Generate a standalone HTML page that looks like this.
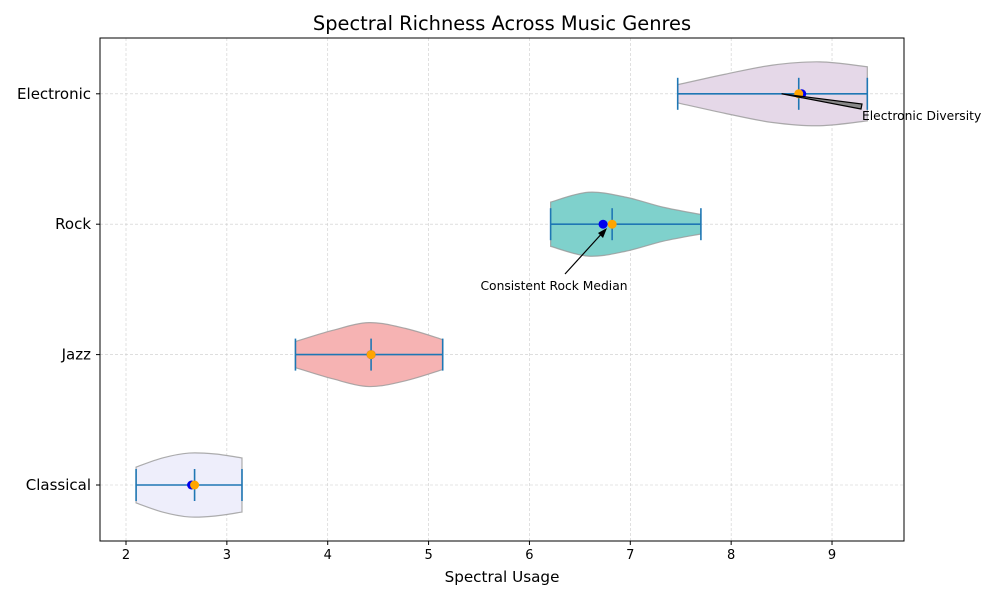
<!DOCTYPE html>
<html><head><meta charset="utf-8"><style>
body{margin:0;background:#fff;font-family:"Liberation Sans","DejaVu Sans",sans-serif}
</style></head><body>
<svg id="c" width="1000" height="600" xmlns="http://www.w3.org/2000/svg" font-family="DejaVu Sans, Liberation Sans, sans-serif"></svg>
<script>
const genres=["Classical","Jazz","Rock","Electronic"];
const mins=[2.1,3.68,6.21,7.47];
const maxs=[3.15,5.14,7.7,9.35];
const centers=[2.68,4.43,6.82,8.67];
const medians=[2.65,4.43,6.73,8.70];
const profiles=[[0.55,0.83,0.98,0.95,0.83],[0.4,0.74,0.98,0.8,0.46],[0.68,0.98,0.83,0.52,0.3],[0.28,0.6,0.88,0.98,0.83]];
const fills=["#eeeefb","#f6b3b3","#7fd1cc","#e5d8e8"];
const xticks=[2,3,4,5,6,7,8,9];
const NS="http://www.w3.org/2000/svg",svg=document.getElementById('c');
const L=100,R=904,T=38,B=541;
const X=v=>126+(v-2)*100.86, Y=i=>485-i*130.4, HW=32.6;
function el(t,a,p){const e=document.createElementNS(NS,t);for(const k in a)e.setAttribute(k,a[k]);(p||svg).appendChild(e);return e;}
xticks.forEach(v=>{const g=el('line',{x1:X(v),x2:X(v),y1:T,y2:B,stroke:'#ccc','stroke-dasharray':'3,2','stroke-width':0.6});

el('line',{x1:X(v),x2:X(v),y1:B,y2:B+4,stroke:'#000'});
const t=el('text',{x:X(v),y:B+18,'text-anchor':'middle','font-size':13});t.textContent=v;
});
genres.forEach((g,i)=>{el('line',{x1:L,x2:R,y1:Y(i),y2:Y(i),stroke:'#ccc','stroke-dasharray':'3,2','stroke-width':0.6});
el('line',{x1:L-4,x2:L,y1:Y(i),y2:Y(i),stroke:'#000'});
const t=el('text',{x:L-9,y:Y(i)+5,'text-anchor':'end','font-size':15});t.textContent=g;
});
function smooth(pts){let d=`M${pts[0][0]},${pts[0][1]}`;for(let i=0;i<pts.length-1;i++){const p0=pts[i-1]||pts[i],p1=pts[i],p2=pts[i+1],p3=pts[i+2]||p2;
d+=` C${p1[0]+(p2[0]-p0[0])/6},${p1[1]+(p2[1]-p0[1])/6} ${p2[0]-(p3[0]-p1[0])/6},${p2[1]-(p3[1]-p1[1])/6} ${p2[0]},${p2[1]}`;}return d;}
genres.forEach((g,i)=>{const pr=profiles[i],n=pr.length,cy=Y(i);
const top=pr.map((w,k)=>[X(mins[i]+(maxs[i]-mins[i])*k/(n-1)),cy-w*HW]);
const bot=pr.map((w,k)=>[X(mins[i]+(maxs[i]-mins[i])*k/(n-1)),cy+w*HW]).reverse();
const d=smooth(top)+` L${bot[0][0]},${bot[0][1]} `+smooth(bot).slice(1)+'Z';
const v=el('path',{d:d,fill:fills[i],stroke:'#999','stroke-opacity':0.8,'stroke-width':1.2});

const c='#1f77b4';
el('line',{x1:X(mins[i]),x2:X(maxs[i]),y1:cy,y2:cy,stroke:c,'stroke-width':1.6});
[mins[i],maxs[i],centers[i]].forEach(v2=>el('line',{x1:X(v2),x2:X(v2),y1:cy-16,y2:cy+16,stroke:c,'stroke-width':1.6}));
const m=el('circle',{cx:X(medians[i]),cy:cy,r:4.5,fill:'#0000ee'});

const o=el('circle',{cx:X(centers[i]),cy:cy,r:4.5,fill:'#ffa500'});
});
el('rect',{x:L,y:T,width:R-L,height:B-T,fill:'none',stroke:'#000','stroke-width':1});
el('polygon',{points:`${X(8.5)},${Y(3)} 862,104 861,109`,fill:'#888',stroke:'#000','stroke-width':1.2});
let a=el('text',{x:862,y:120,'font-size':12.3});a.textContent='Electronic Diversity';

el('line',{x1:565,y1:274,x2:605,y2:230,stroke:'#000','stroke-width':1.2});
el('polygon',{points:'607,228 598,233 603,238',fill:'#000'});
a=el('text',{x:554,y:290,'font-size':12.3,'text-anchor':'middle'});a.textContent='Consistent Rock Median';

let t=el('text',{x:502,y:30,'text-anchor':'middle','font-size':19.4});t.textContent='Spectral Richness Across Music Genres';

t=el('text',{x:502,y:582,'text-anchor':'middle','font-size':15.2});t.textContent='Spectral Usage';

</script></body></html>
